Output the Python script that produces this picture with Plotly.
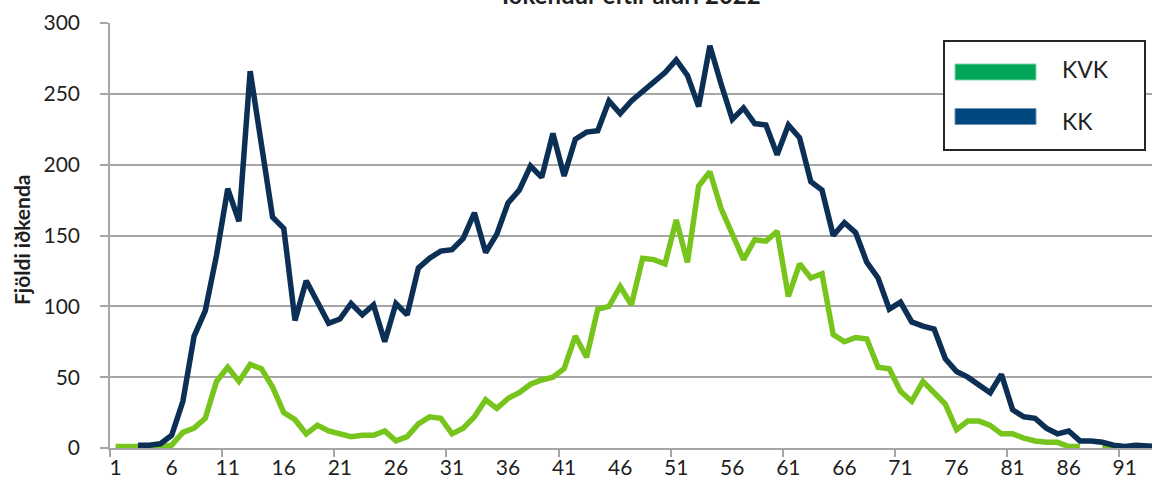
import plotly.graph_objects as go

# ---------------- data ----------------
ages = list(range(1, 95))

kvk = [1, 1, 1, 1, 1, 2, 11, 14, 21, 47,
       57, 47, 59, 56, 43, 25, 20, 10, 16, 12,
       10, 8, 9, 9, 12, 5, 8, 17, 22, 21,
       10, 14, 22, 34, 28, 35, 39, 45, 48, 50,
       56, 79, 64, 98, 100, 114, 101, 134, 133, 130,
       161, 131, 185, 195, 169, 151, 133, 147, 146, 153,
       107, 130, 120, 123, 80, 75, 78, 77, 57, 56,
       40, 33, 47, 39, 31, 13, 19, 19, 16, 10,
       10, 7, 5, 4, 4, 1, 1, None, 1, 1,
       None, None, None, None]

kk = [None, None, 2, 2, 3, 9, 33, 79, 97, 136,
      183, 160, 266, 212, 163, 155, 90, 118, 103, 88,
      91, 102, 94, 101, 75, 102, 94, 127, 134, 139,
      140, 148, 166, 138, 151, 173, 182, 199, 191, 222,
      192, 218, 223, 224, 245, 236, 245, 252, 258, 265,
      274, 263, 241, 284, 257, 232, 240, 229, 228, 207,
      228, 219, 188, 182, 150, 159, 152, 131, 120, 98,
      103, 89, 86, 84, 63, 54, 50, 44, 39, 52,
      27, 22, 21, 14, 10, 12, 5, 5, 4, 2,
      1, 2, 1, 1]

xtick_vals = list(range(1, 92, 5))
xtick_text = [str(v) for v in xtick_vals]
ytick_vals = [0, 50, 100, 150, 200, 250, 300]
series_names = ["KVK", "KK"]
title_text = "Iðkendur eftir aldri 2022"
ytitle_text = "Fjöldi iðkenda"

# ---------------- style ----------------
W, H = 1152, 491
L, R, T, B = 110, 0, 23, 43
PW, PH = W - L - R, H - T - B
FONT = "Lato"
GRID = "#A6A6A6"
TXT = "#1F1F1F"
LINE_KVK = "#76C41C"
LINE_KK = "#0C2F56"
LEG_KVK = "#00A65A"
LEG_KK = "#00467F"


def px(xp):
    return (xp - L) / PW


def py(yp):
    return (H - B - yp) / PH


fig = go.Figure()
fig.add_trace(go.Scatter(x=ages, y=kvk, mode="lines", name=series_names[0],
                         line=dict(color=LINE_KVK, width=5.5), showlegend=False))
fig.add_trace(go.Scatter(x=ages, y=kk, mode="lines", name=series_names[1],
                         line=dict(color=LINE_KK, width=5.5), showlegend=False))

fig.update_layout(
    width=W, height=H,
    margin=dict(l=L, r=R, t=T, b=B, pad=0, autoexpand=False),
    paper_bgcolor="white", plot_bgcolor="white",
    font=dict(family=FONT, size=21, color=TXT),
    showlegend=False,
)

fig.update_xaxes(
    range=[0.5, 93.43], automargin=False,
    tickmode="array", tickvals=xtick_vals, ticktext=xtick_text,
    ticks="", showgrid=False, zeroline=False,
    showline=True, linecolor=GRID, linewidth=1.5,
    ticklabelstandoff=0,
    tickfont=dict(family=FONT, size=21, color=TXT),
    minor=dict(tickmode="array", tickvals=[0.5 + 10 * i for i in range(10)],
               ticks="outside", ticklen=7, tickwidth=1.5, tickcolor=GRID,
               showgrid=False),
    layer="below traces",
)
fig.update_yaxes(
    range=[0, 300], automargin=False,
    tickmode="array", tickvals=ytick_vals,
    ticks="outside", ticklen=8, tickwidth=1.5, tickcolor=GRID,
    showgrid=True, gridcolor=GRID, gridwidth=1.5, zeroline=False,
    showline=True, linecolor=GRID, linewidth=1.5,
    ticklabelstandoff=16,
    tickfont=dict(family=FONT, size=21, color=TXT),
    layer="below traces",
)

annotations = [
    dict(text="<b>" + title_text + "</b>", xref="paper", yref="paper",
         x=0.5, y=1, xanchor="center", yanchor="bottom", yshift=12,
         showarrow=False, font=dict(family=FONT, size=24, color=TXT)),
    dict(text="<b>" + ytitle_text + "</b>", xref="paper", yref="paper",
         x=px(22), y=py(240), xanchor="center", yanchor="middle",
         textangle=-90, showarrow=False,
         font=dict(family=FONT, size=21, color=TXT)),
    dict(text=series_names[0], xref="paper", yref="paper",
         x=px(1060), y=py(69), xanchor="left", yanchor="middle",
         showarrow=False, font=dict(family=FONT, size=23, color=TXT)),
    dict(text=series_names[1], xref="paper", yref="paper",
         x=px(1060), y=py(121), xanchor="left", yanchor="middle",
         showarrow=False, font=dict(family=FONT, size=23, color=TXT)),
]
fig.update_layout(annotations=annotations)

shapes = [
    dict(type="rect", xref="paper", yref="paper",
         x0=px(944), x1=px(1145), y0=py(150), y1=py(41),
         line=dict(color="#262626", width=2), fillcolor="white", layer="above"),
    dict(type="rect", xref="paper", yref="paper",
         x0=px(955), x1=px(1036), y0=py(80), y1=py(64),
         line=dict(color="#7FD3A8", width=1), fillcolor=LEG_KVK, layer="above"),
    dict(type="rect", xref="paper", yref="paper",
         x0=px(955), x1=px(1036), y0=py(124.5), y1=py(108.5),
         line=dict(color="#6F93B5", width=1), fillcolor=LEG_KK, layer="above"),
]
fig.update_layout(shapes=shapes)

fig.write_html(
    "out.html",
    config={"displayModeBar": False},
    post_script="document.body.style.margin='0px';document.body.style.overflow='hidden';",
)
